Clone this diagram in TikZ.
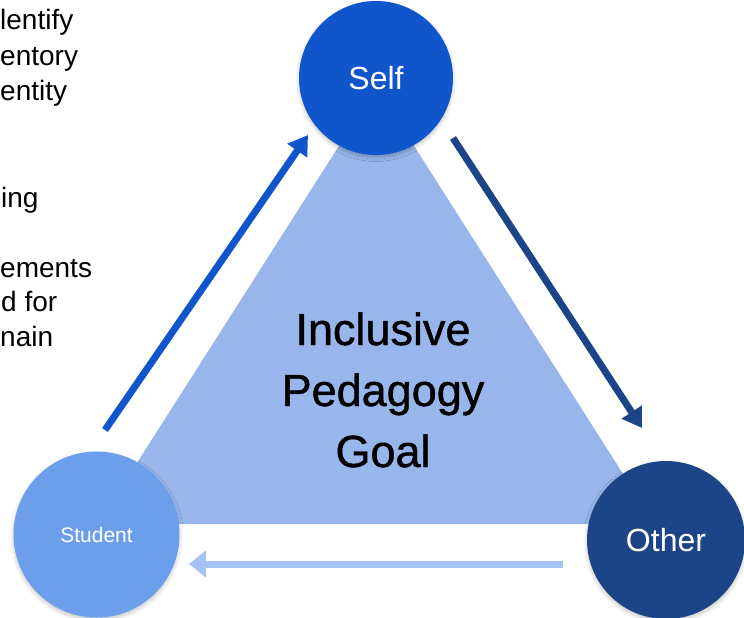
\documentclass[tikz,border=0pt]{standalone}
\usepackage{fontspec}
\setmainfont{Liberation Sans}
\newfontfamily\goalfont[FakeBold=1]{Liberation Sans}
\usetikzlibrary{arrows.meta,shadows.blur}
\definecolor{selfblue}{HTML}{1155CC}
\definecolor{studentblue}{HTML}{6D9EEB}
\definecolor{otherblue}{HTML}{1C4587}
\definecolor{trifill}{HTML}{98B6EB}
\definecolor{lightarrow}{HTML}{A4C2F4}
\tikzset{
  circ/.style={circle, inner sep=0pt, text=white,
    blur shadow={shadow xshift=0pt, shadow yshift=-2.5pt, shadow blur radius=4pt, shadow opacity=22}},
  flow/.style={line width=7pt, -{Triangle[length=19pt,width=23pt]}},
  sidetext/.style={anchor=base west, inner sep=0pt, font=\fontsize{28}{32}\selectfont}
}
\begin{document}
\begin{tikzpicture}[x=1pt,y=-1pt]
\useasboundingbox (0,0) rectangle (744,618);
% left text (cut by the picture's edge in the reference)
\node[sidetext] (t1) at (0,30) {lentify};
\node[sidetext] (t2) at (0,66) {entory};
\node[sidetext] (t3) at (0,100) {entity};
\node[sidetext] (t4) at (1,207) {ing};
\node[sidetext] (t5) at (0,277) {ements};
\node[sidetext] (t6) at (1,311) {d for};
\node[sidetext] (t7) at (0,346) {nain};
% triangle
\fill[trifill] (376.5,87) -- (655,524) -- (98,524) -- cycle;
\node[align=center, inner sep=0pt, anchor=base, font=\goalfont\fontsize{45}{61}\selectfont] (goal) at (383,467) {Inclusive\\Pedagogy\\Goal};
% arrows
\coordinate (a1s) at (105,430);
\coordinate (a1e) at (308,135);
\coordinate (a2s) at (453,138);
\coordinate (a2e) at (642,428);
\coordinate (a3s) at (563,564);
\coordinate (a3e) at (189,564);
\draw[flow, selfblue] (a1s) -- (a1e);
\draw[flow, otherblue] (a2s) -- (a2e);
\draw[flow, lightarrow, -{Triangle[length=17pt,width=26pt]}] (a3s) -- (a3e);
% circles
\node[circ, fill=selfblue, minimum size=154pt, font=\fontsize{32}{36}\selectfont] (self) at (376,78) {Self};
\node[circ, fill=studentblue, minimum size=166pt, font=\fontsize{21}{24}\selectfont] (student) at (96.5,534.5) {Student};
\node[circ, fill=otherblue, minimum size=158pt, font=\fontsize{32}{36}\selectfont] (other) at (666,540) {Other};
\end{tikzpicture}
\end{document}
